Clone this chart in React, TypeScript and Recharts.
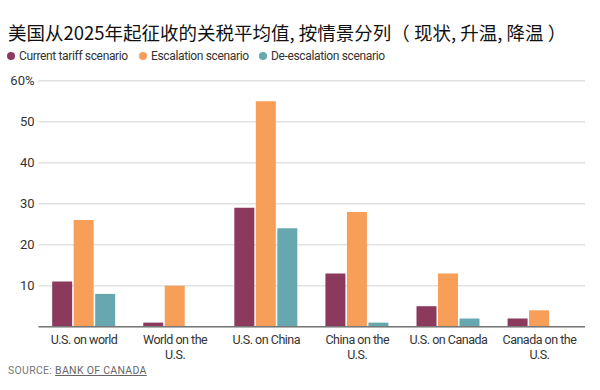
import { BarChart, Bar, XAxis, YAxis, CartesianGrid } from 'recharts';

const categories = [
  'U.S. on world',
  'World on the U.S.',
  'U.S. on China',
  'China on the U.S.',
  'U.S. on Canada',
  'Canada on the U.S.',
];
const currentValues = [11, 1, 29, 13, 5, 2];
const escalationValues = [26, 10, 55, 28, 13, 4];
const deEscalationValues = [8, 0, 24, 1, 2, 0];
const yTicks = [0, 10, 20, 30, 40, 50, 60];

const series = [
  { key: 'current', name: 'Current tariff scenario', color: '#8b3a5e', left: 7 },
  { key: 'escalation', name: 'Escalation scenario', color: '#f79e59', left: 139 },
  { key: 'deEscalation', name: 'De-escalation scenario', color: '#67a8b0', left: 259 },
];

const chartData = categories.map((c, i) => ({
  category: c,
  current: currentValues[i],
  escalation: escalationValues[i],
  deEscalation: deEscalationValues[i],
}));

const font = "'Roboto', 'Noto Sans', sans-serif";

function CategoryTick({ x, y, payload }: any) {
  const label: string = payload.value;
  let lines = [label];
  if (label.includes(' the ')) {
    const idx = label.lastIndexOf(' ');
    lines = [label.slice(0, idx), label.slice(idx + 1)];
  }
  return (
    <text
      x={x}
      y={y}
      textAnchor="middle"
      fill="#333"
      fontSize={12.5}
      fontFamily={font}
      style={{ letterSpacing: -0.5 }}
    >
      {lines.map((l, i) => (
        <tspan key={i} x={x} dy={i === 0 ? 9 : 15}>
          {l}
        </tspan>
      ))}
    </text>
  );
}

export default function App() {
  return (
    <div style={{ position: 'absolute', left: 0, top: 0, width: 600, height: 390, background: '#fff', overflow: 'hidden' }}>
      <div
        style={{
          position: 'absolute',
          left: 8,
          top: 19,
          fontFamily: "'Noto Sans CJK SC', sans-serif",
          fontSize: 18.5,
          fontWeight: 400,
          color: '#111',
          whiteSpace: 'nowrap',
        }}
      >
        美国从2025年起征收的关税平均值, 按情景分列（ 现状, 升温, 降温 ）
      </div>
      {series.map((s) => (
        <div
          key={s.key}
          style={{
            position: 'absolute',
            left: s.left,
            top: 49,
            display: 'flex',
            alignItems: 'center',
            fontFamily: font,
            fontSize: 12,
            letterSpacing: -0.35,
            color: '#333',
            whiteSpace: 'nowrap',
          }}
        >
          <span
            style={{ width: 8, height: 8, borderRadius: 4, background: s.color, display: 'inline-block', marginRight: 4 }}
          />
          {s.name}
        </div>
      ))}
      <div style={{ position: 'absolute', left: 0, top: 0 }}>
        <BarChart
          width={600}
          height={390}
          data={chartData}
          margin={{ top: 80.7, right: 15, bottom: 0, left: 0 }}
          barCategoryGap="15%"
          barGap={1.5}
        >
          <CartesianGrid vertical={false} stroke="#e2e2e2" strokeWidth={1.5} />
          <XAxis
            dataKey="category"
            tick={<CategoryTick />}
            tickLine={false}
            axisLine={{ stroke: '#777', strokeWidth: 1.5 }}
            interval={0}
            height={63.3}
          />
          <YAxis
            domain={[0, 60]}
            ticks={yTicks}
            width={38.5}
            tickSize={0}
            tickMargin={4}
            axisLine={false}
            tickLine={false}
            tick={{ fill: '#333', fontSize: 13, fontFamily: font }}
            tickFormatter={(v: number) => (v === 0 ? '' : v === 60 ? '60%' : String(v))}
          />
          {series.map((s) => (
            <Bar key={s.key} dataKey={s.key} name={s.name} fill={s.color} isAnimationActive={false} />
          ))}
        </BarChart>
      </div>
      <div
        style={{
          position: 'absolute',
          left: 8,
          top: 364,
          fontFamily: font,
          fontSize: 10.5,
          letterSpacing: 0.3,
          color: '#777',
          whiteSpace: 'nowrap',
        }}
      >
        SOURCE: <span style={{ textDecoration: 'underline', color: '#666' }}>BANK OF CANADA</span>
      </div>
    </div>
  );
}
